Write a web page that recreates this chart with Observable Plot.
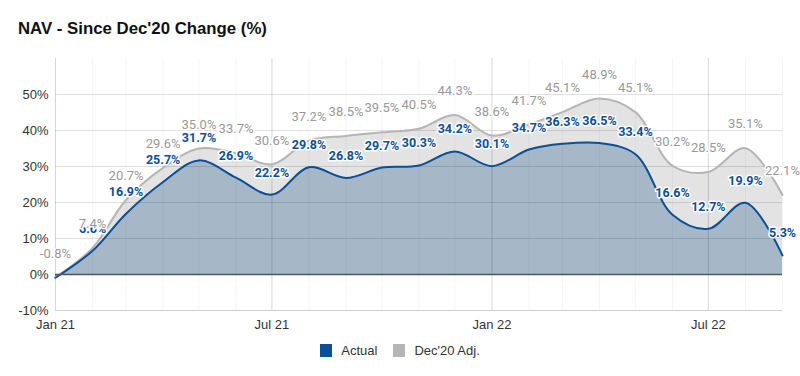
<!DOCTYPE html>
<html><head><meta charset="utf-8">
<script src="https://cdn.jsdelivr.net/npm/d3@7"></script>
<script src="https://cdn.jsdelivr.net/npm/@observablehq/plot@0.6"></script>
<style>
body{margin:0;background:#fff;width:800px;height:376px;overflow:hidden;font-family:"Liberation Sans",Arial,sans-serif}
#title{height:50px;box-sizing:border-box;padding:19px 0 0 18px;font:700 16.8px "Liberation Sans",Arial,sans-serif;color:#111;line-height:20px}
#chart{height:290px}
#legend{display:flex;justify-content:center;align-items:center;margin-top:3px;height:14px;font-size:13px;color:#333}
.item{display:flex;align-items:center;margin:0 8px}
.sw{width:12px;height:13px;margin-right:9px}
</style></head>
<body>
<div id="title">NAV - Since Dec'20 Change (%)</div>
<div id="chart"></div>
<div id="legend"></div>
<script>
const months = ["2021-01","2021-02","2021-03","2021-04","2021-05","2021-06","2021-07","2021-08","2021-09","2021-10","2021-11","2021-12","2022-01","2022-02","2022-03","2022-04","2022-05","2022-06","2022-07","2022-08","2022-09"];
const actual = [-0.9, 6.6, 16.9, 25.7, 31.7, 26.9, 22.2, 29.8, 26.8, 29.7, 30.3, 34.2, 30.1, 34.7, 36.3, 36.5, 33.4, 16.6, 12.7, 19.9, 5.3];
const adjusted = [-0.8, 7.4, 20.7, 29.6, 35.0, 33.7, 30.6, 37.2, 38.5, 39.5, 40.5, 44.3, 38.6, 41.7, 45.1, 48.9, 45.1, 30.2, 28.5, 35.1, 22.1];
const seriesNames = ["Actual", "Dec'20 Adj."];
const seriesColors = ["#0b4f96", "#b5b5b5"];
const yTicks = [-10, 0, 10, 20, 30, 40, 50];
const xTickLabels = ["2021-01","2021-07","2022-01","2022-07"];

const toDate = m => new Date(m + "-01T00:00:00Z");
const rows = months.map((m, i) => ({date: toDate(m), actual: actual[i], adj: adjusted[i]}));
const xTicks = xTickLabels.map(toDate);
const fmt = v => v.toFixed(1) + "%";

const chart = Plot.plot({
  width: 800, height: 290,
  marginTop: 8, marginBottom: 30, marginLeft: 55, marginRight: 18,
  style: {fontFamily: "Liberation Sans, Arial, sans-serif", fontSize: "13px", color: "#333", background: "#fff"},
  x: {type: "utc", domain: [toDate(months[0]), toDate(months[months.length - 1])]},
  y: {domain: [-10, 60]},
  marks: [
    Plot.areaY(rows, {x: "date", y: "adj", fill: "#e3e3e3", curve: "catmull-rom"}),
    Plot.areaY(rows, {x: "date", y: "actual", fill: "#a6b7c8", curve: "catmull-rom"}),
    Plot.ruleX(rows, {x: "date", stroke: "#000", strokeOpacity: 0.04}),
    Plot.ruleY(yTicks.filter(t => t > 0), {y: d => d, stroke: "#000", strokeOpacity: 0.12}),
    Plot.ruleX(xTicks, {x: d => d, stroke: "#000", strokeOpacity: 0.12}),
    Plot.ruleY([-10], {stroke: "#cfcfcf"}),
    Plot.lineY(rows, {x: "date", y: "adj", stroke: seriesColors[1], strokeWidth: 2, curve: "catmull-rom"}),
    Plot.lineY(rows, {x: "date", y: "actual", stroke: seriesColors[0], strokeWidth: 2, curve: "catmull-rom"}),
    Plot.ruleY([0], {stroke: "#555", strokeWidth: 1.5}),
    Plot.axisY({ticks: yTicks, tickFormat: d => d + "%", tickSize: 0, tickPadding: 7, label: null}),
    Plot.axisX({ticks: xTicks, tickFormat: d3.utcFormat("%b %y"), tickSize: 0, tickPadding: 9, label: null}),
    Plot.text(rows.slice(1), {x: "date", y: "actual", text: d => fmt(d.actual), dy: -22, fill: seriesColors[0], fontWeight: "bold", fontSize: 12.5, fontFamily: "Roboto", stroke: "white", strokeWidth: 3}),
    Plot.text(rows, {x: "date", y: "adj", text: d => fmt(d.adj), dy: -24, fill: "#999", fontSize: 13, fontFamily: "Roboto", stroke: "white", strokeWidth: 3})
  ]
});
document.getElementById("chart").appendChild(chart);

const legend = document.getElementById("legend");
seriesNames.forEach((n, i) => {
  const it = document.createElement("div");
  it.className = "item";
  it.innerHTML = `<div class="sw" style="background:${seriesColors[i]}"></div><span>${n}</span>`;
  legend.appendChild(it);
});
</script>
</body></html>
